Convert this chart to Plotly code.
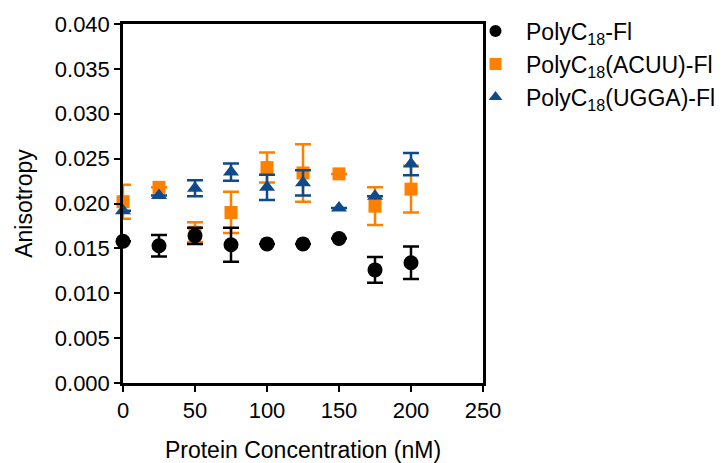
import plotly.graph_objects as go

conc = [0, 25, 50, 75, 100, 125, 150, 175, 200]

polyc_fl = [0.0158, 0.0153, 0.0164, 0.0154, 0.0155, 0.0155, 0.0161, 0.0126, 0.0134]
polyc_fl_err = [0.0, 0.0012, 0.0009, 0.0019, 0.0, 0.0, 0.0, 0.00144, 0.0018]

acuu = [0.0202, 0.0218, 0.0168, 0.0190, 0.0240, 0.0234, 0.0233, 0.0197, 0.0216]
acuu_err = [0.0019, 0.0, 0.0011, 0.0023, 0.00167, 0.0032, 0.0, 0.0021, 0.0026]

ugga = [0.0192, 0.0209, 0.0217, 0.0235, 0.0218, 0.0223, 0.0195, 0.0208, 0.0244]
ugga_err = [0.0, 0.0, 0.0009, 0.00097, 0.0014, 0.0014, 0.0, 0.0, 0.00124]

names = ["PolyC<sub>18</sub>-Fl", "PolyC<sub>18</sub>(ACUU)-Fl", "PolyC<sub>18</sub>(UGGA)-Fl"]
colors = ["#000000", "#FF8000", "#0E4A8C"]
symbols = ["circle", "square", "triangle-up"]

yt = [0.000, 0.005, 0.010, 0.015, 0.020, 0.025, 0.030, 0.035, 0.040]
ytext = ["0.000", "0.005", "0.010", "0.015", "0.020", "0.025", "0.030", "0.035", "0.040"]
xt = [0, 50, 100, 150, 200, 250]

fig = go.Figure()

def add(y, err, i, rank, size):
    fig.add_trace(go.Scatter(
        x=conc, y=y, mode="markers", name=names[i], legendrank=rank,
        marker=dict(symbol=symbols[i], color=colors[i], size=size),
        error_y=dict(type="data", array=err, visible=True, color=colors[i],
                     thickness=2.5, width=8),
        cliponaxis=False,
    ))

add(acuu, acuu_err, 1, 2, 13)
add(ugga, ugga_err, 2, 3, 14)
add(polyc_fl, polyc_fl_err, 0, 1, 15)

FS = 22
TFS = 23
axis_common = dict(
    showline=True, linecolor="black", linewidth=2.5, mirror=True,
    ticks="outside", ticklen=6, tickwidth=2, tickcolor="black",
    showgrid=False, zeroline=False, automargin=False,
    tickfont=dict(size=FS, color="black"),
)

fig.update_layout(
    width=724, height=463,
    margin=dict(l=115, r=249, t=16, b=87.5, autoexpand=False),
    paper_bgcolor="white", plot_bgcolor="white",
    font=dict(family="Arial, Liberation Sans, sans-serif", color="black", size=FS),
    xaxis=dict(range=[0, 250], tickvals=xt, title=dict(text="Protein Concentration (nM)", font=dict(size=TFS), standoff=20), **axis_common),
    yaxis=dict(range=[0, 0.040], tickvals=yt, ticktext=ytext, title=dict(text="Anisotropy", font=dict(size=TFS), standoff=16), **axis_common),
    legend=dict(x=0.95, y=1.04, xanchor="left", yanchor="top", font=dict(size=23),
                tracegroupgap=0, itemsizing="constant", itemwidth=51,
                bgcolor="rgba(0,0,0,0)"),
    showlegend=True,
)

fig.write_html("out.html")
